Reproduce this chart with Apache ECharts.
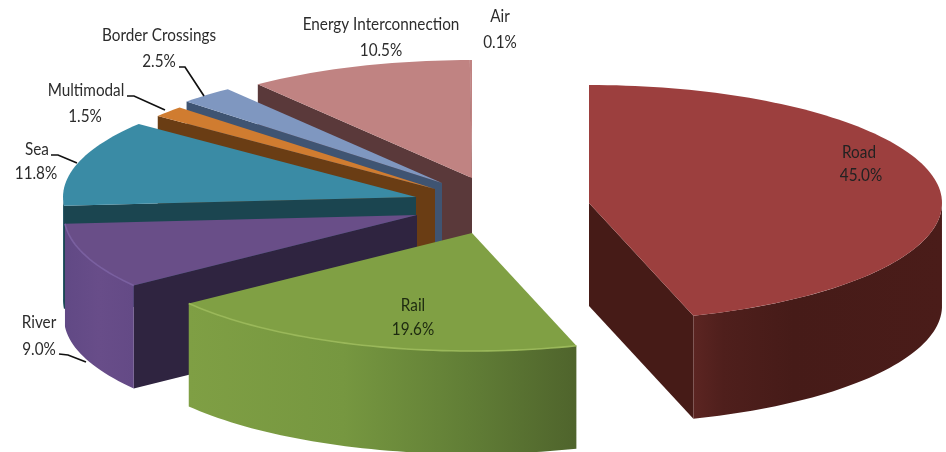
<!DOCTYPE html>
<html><head><meta charset="utf-8">
<style>html,body{margin:0;padding:0;background:#fff}#c{width:946px;height:452px}</style>
<script src="https://cdn.jsdelivr.net/npm/echarts@6/dist/echarts.min.js"></script>
</head><body><div id="c"></div>
<script>
// Data
const categories = ['Road','Rail','River','Sea','Multimodal','Border Crossings','Energy Interconnection','Air'];
const shares = [45.0,19.6,9.0,11.8,1.5,2.5,10.5,0.1];

// Layout of the exploded 3-D pie (pixels)
const radiusX = 353, radiusY = 118, depth = 103, viewTwist = 0.8;
const apexes = [[589,203],[472,233],[417,215],[416,197],[435,189],[442,183],[472,178],[472,178]];
const labelLines = [[859,152,861,175],[413,305,413,329],[39,322,39,349],[37,149,36,173],[86,90,85,116],[159,35,159,61],[381,24,381,50],[500,16,500,42]];
const leaders = [null,null,[[59,354],[68,355],[86,362]],[[51,155],[58,155],[77,163]],[[127,96],[134,96],[165,110]],[[179,67],[185,67],[204,96]],null,null];

// Colours
const topColors = ['#9c3f3e','#80a044','#694e88','#3a8ba5','#d07c30','#7f97c0','#c08382','#c08382'];
const faceColors = ['#461b17','#4f642c','#2f2440','#1b4550','#6a3d14','#3f5472','#5a393a','#5a393a'];
const wallStops = [
  [[0,'#5c2522'],[0.12,'#4f1f1c'],[0.4,'#461b18'],[1,'#4a1c19']],
  [[0,'#7f9f44'],[0.4,'#769740'],[0.72,'#617e36'],[1,'#4f642c']],
  [[0,'#614985'],[0.5,'#684d89'],[1,'#644a86']],
  [[0,'#1b4f5e'],[1,'#1b4f5e']],
  [[0,'#6a3d14'],[1,'#6a3d14']],[[0,'#3f5472'],[1,'#3f5472']],[[0,'#5a393a'],[1,'#5a393a']],[[0,'#5a393a'],[1,'#5a393a']]
];
const rimColors = [null,'#9ab85a','#7a60a0',null,null,null,null,null];
const textColors = ['#222','#1d2a10','#2c2c2c','#2c2c2c','#2c2c2c','#2c2c2c','#2c2c2c','#2c2c2c'];

const total = shares.reduce((a,b)=>a+b,0);
const starts = []; shares.reduce((acc,v,i)=>{starts[i]=acc; return acc+v/total*360;},0);
const twist = a => a + viewTwist*Math.max(0,Math.min(1,a/90,(360-a)/30));
const point = (c,deg,dy)=>{const r=twist(deg)*Math.PI/180; return [c[0]+radiusX*Math.sin(r), c[1]-radiusY*Math.cos(r)+(dy||0)];};
const arc = (c,a0,a1,dy)=>{const pts=[],n=Math.max(2,Math.ceil((a1-a0)/1.5)); for(let k=0;k<=n;k++) pts.push(point(c,a0+(a1-a0)*k/n,dy)); return pts;};
const poly = (points,fill)=>({type:'polygon',shape:{points},style:{fill,stroke:null},silent:true});

function renderItem(params, api){
  const i = api.value(1), v = api.value(0);
  const a0 = starts[i], a1 = a0 + v/total*360, c = apexes[i];
  const children = [];
  const face = a => { const r = point(c,a); children.push(poly([c,r,[r[0],r[1]+depth],[c[0],c[1]+depth]],faceColors[i])); };
  if (a0 > 180 && a0 < 360) face(a0);
  if (a1 > 0 && a1 < 180) face(a1);
  const w0 = Math.max(a0,90), w1 = Math.min(a1,270);
  if (w1 > w0) {
    const up = arc(c,w0,w1,0), down = arc(c,w0,w1,depth).reverse();
    const stops = wallStops[i].map(s=>({offset:s[0],color:s[1]}));
    children.push(poly(up.concat(down),new echarts.graphic.LinearGradient(0,0,1,0,stops)));
  }
  children.push(poly([c].concat(arc(c,a0,a1,0)),topColors[i]));
  if (rimColors[i] && w1 > w0) children.push({type:'polyline',shape:{points:arc(c,w0,w1,0)},style:{stroke:rimColors[i],lineWidth:1.6,fill:null},silent:true});
  if (leaders[i]) children.push({type:'polyline',shape:{points:leaders[i]},style:{stroke:'#111',lineWidth:1.7,fill:null},silent:true});
  const L = labelLines[i];
  const txt = (s,x,y)=>({type:'text',x,y,scaleX:0.85,style:{text:s,x:0,y:0,align:'center',verticalAlign:'middle',fill:textColors[i],font:'18px Lato'},silent:true});
  children.push(txt(categories[i],L[0],L[1]));
  children.push(txt(shares[i].toFixed(1)+'%',L[2],L[3]));
  return {type:'group',children};
}

const order = shares.map((v,i)=>[v,i]).reverse();
const chart = echarts.init(document.getElementById('c'),null,{renderer:'canvas'});
chart.setOption({
  animation:false,
  backgroundColor:'#fff',
  series:[{type:'custom',coordinateSystem:'none',silent:true,clip:false,renderItem,data:order}]
});
</script></body></html>
